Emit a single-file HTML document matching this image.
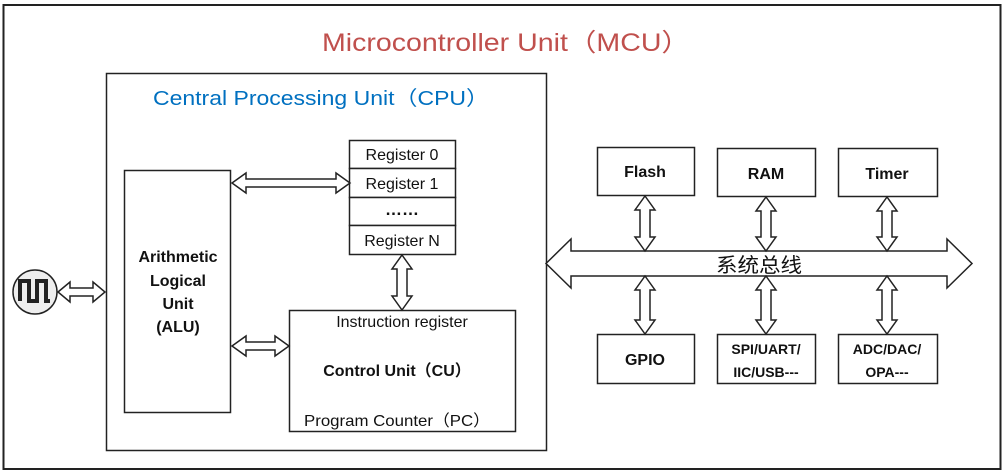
<!DOCTYPE html>
<html><head><meta charset="utf-8"><style>
html,body{margin:0;padding:0;background:#fff;}
svg{display:block;}
text{font-family:"Liberation Sans","Noto Sans CJK SC",sans-serif;}
</style></head><body>
<svg width="1005" height="473" viewBox="0 0 1005 473" xmlns="http://www.w3.org/2000/svg">
<rect x="0" y="0" width="1005" height="473" fill="#fff"/>
<rect x="3.5" y="5" width="997" height="464" fill="none" stroke="#222" stroke-width="2"/>
<text x="322" y="51" font-size="25" fill="#c0504d" textLength="368" lengthAdjust="spacingAndGlyphs">Microcontroller Unit（MCU）</text>
<rect x="106.5" y="73.5" width="440" height="377" fill="none" stroke="#222" stroke-width="1.5"/>
<text x="153" y="105" font-size="20" fill="#0070c0" textLength="336" lengthAdjust="spacingAndGlyphs">Central Processing Unit（CPU）</text>

<g fill="#fff" stroke="#222" stroke-width="1.5">
<rect x="124.5" y="170.5" width="106" height="242"/>
<rect x="349.5" y="140.5" width="106" height="28"/>
<rect x="349.5" y="168.5" width="106" height="29"/>
<rect x="349.5" y="197.5" width="106" height="28"/>
<rect x="349.5" y="225.5" width="106" height="29"/>
<rect x="289.5" y="310.5" width="226" height="121"/>
<circle cx="35" cy="292" r="22" fill="#eee"/>
<rect x="597.5" y="147.5" width="97" height="48"/>
<rect x="717.5" y="148.5" width="98" height="48"/>
<rect x="838.5" y="148.5" width="99" height="48"/>
<rect x="597.5" y="334.5" width="97" height="49"/>
<rect x="717.5" y="334.5" width="98" height="49"/>
<rect x="838.5" y="334.5" width="99" height="49"/>
</g>
<path d="M20 301 V281 H29 V301 H37 V281 H46 V301 H50" fill="none" stroke="#222" stroke-width="4"/>

<g fill="#fff" stroke="#222" stroke-width="1.5">
<polygon points="58,292 70,282 70,288 93,288 93,282 105,292 93,302 93,296 70,296 70,302"/>
<polygon points="232,183 246,173 246,179 336,179 336,173 350,183 336,193 336,187 246,187 246,193"/>
<polygon points="232,346 246,336 246,342 275,342 275,336 289,346 275,356 275,350 246,350 246,356"/>
<polygon points="402,255 412,269 407,269 407,296 412,296 402,310 392,296 397,296 397,269 392,269"/>
<polygon points="546,263.5 571,239 571,251 947,251 947,239 972,263.5 947,288 947,276 571,276 571,288"/>
<polygon points="645,196 655,210 650,210 650,237 655,237 645,251 635,237 640,237 640,210 635,210"/>
<polygon points="766,197 776,211 771,211 771,237 776,237 766,251 756,237 761,237 761,211 756,211"/>
<polygon points="887,197 897,211 892,211 892,237 897,237 887,251 877,237 882,237 882,211 877,211"/>
<polygon points="645,276 655,290 650,290 650,320 655,320 645,334 635,320 640,320 640,290 635,290"/>
<polygon points="766,276 776,290 771,290 771,320 776,320 766,334 756,320 761,320 761,290 756,290"/>
<polygon points="887,276 897,290 892,290 892,320 897,320 887,334 877,320 882,320 882,290 877,290"/>
</g>

<g font-size="16" fill="#111" text-anchor="middle">
<text x="402" y="160">Register 0</text>
<text x="402" y="189">Register 1</text>
<text x="402" y="215" font-weight="bold" font-size="17">……</text>
<text x="402" y="246">Register N</text>
<text x="402" y="327">Instruction register</text>
<text x="397" y="426" textLength="186" lengthAdjust="spacingAndGlyphs">Program Counter（PC）</text>
<text x="759" y="272" font-size="20" textLength="86" lengthAdjust="spacingAndGlyphs">系统总线</text>
</g>
<g font-size="16" fill="#111" font-weight="bold" text-anchor="middle">
<text x="178" y="262">Arithmetic</text>
<text x="178" y="286">Logical</text>
<text x="178" y="309">Unit</text>
<text x="178" y="332">(ALU)</text>
<text x="397" y="376">Control Unit（CU）</text>
<text x="645" y="177">Flash</text>
<text x="766" y="179">RAM</text>
<text x="887" y="179">Timer</text>
<text x="645" y="365">GPIO</text>
<text x="766" y="354" font-size="14">SPI/UART/</text>
<text x="766" y="377" font-size="14">IIC/USB---</text>
<text x="887" y="354" font-size="14">ADC/DAC/</text>
<text x="887" y="377" font-size="14">OPA---</text>
</g>
</svg>
</body></html>
